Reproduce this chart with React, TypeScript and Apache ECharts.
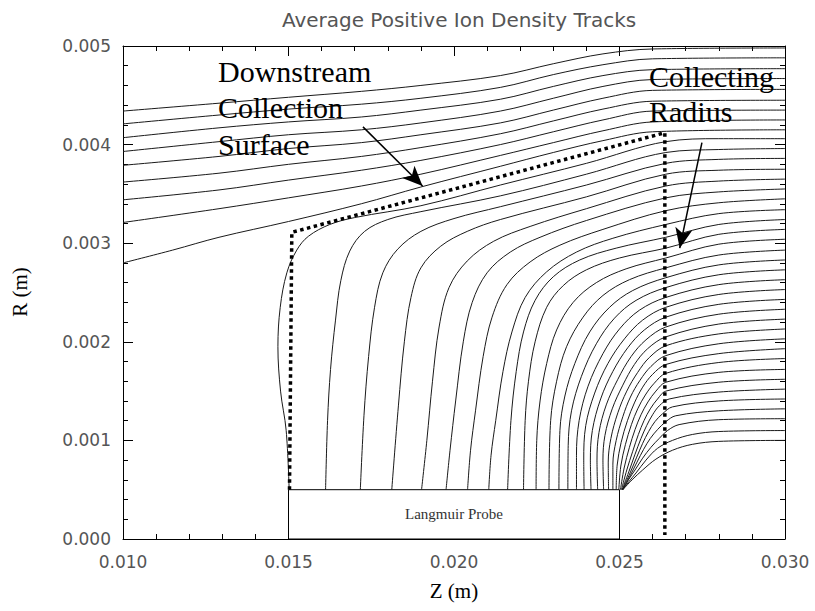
import React, { useEffect, useRef } from 'react';
import * as echarts from 'echarts';

// ---- Axis ranges / tick labels (metres) ----
const zRange = [0.01, 0.03];
const zStep = 0.005;
const rRange = [0.0, 0.005];
const rStep = 0.001;

// ---- Tracks that pass above the collection surface (Z mm, R mm) ----
const upperTracks: number[][][] = [
  [[10, 4.34], [12.9, 4.42], [15, 4.48], [17.2, 4.54], [19, 4.6], [21.4, 4.7], [23, 4.82], [24.5, 4.92], [26, 4.97], [30, 4.98]],
  [[10, 4.21], [12.9, 4.3], [15, 4.36], [17.2, 4.41], [19, 4.47], [21.4, 4.58], [23, 4.71], [24.5, 4.81], [26, 4.87], [30, 4.88]],
  [[10, 4.07], [12.9, 4.17], [15, 4.23], [17.2, 4.28], [19, 4.35], [21.4, 4.46], [23, 4.59], [24.5, 4.7], [26, 4.76], [30, 4.77]],
  [[10, 3.93], [12.9, 4.03], [15, 4.1], [17.2, 4.15], [19, 4.22], [21.4, 4.34], [23, 4.47], [24.5, 4.59], [26, 4.66], [30, 4.67]],
  [[10, 3.79], [12.9, 3.88], [15, 3.96], [17.2, 4.02], [19, 4.1], [21.4, 4.22], [23, 4.35], [24.5, 4.47], [26, 4.55], [30, 4.56]],
  [[10, 3.62], [12.9, 3.71], [15, 3.8], [17.2, 3.88], [19, 3.97], [21.4, 4.11], [23, 4.24], [24.5, 4.36], [26, 4.44], [30, 4.45]],
  [[10, 3.44], [12.9, 3.54], [15, 3.64], [17.2, 3.74], [19, 3.84], [21.4, 4.0], [23, 4.13], [24.5, 4.25], [26, 4.34], [30, 4.35]],
  [[10, 3.21], [12.9, 3.35], [15, 3.46], [17.2, 3.58], [19, 3.7], [21.4, 3.89], [23, 4.02], [24.5, 4.14], [26, 4.23], [30, 4.25]],
  [[10, 2.8], [11.5, 2.93], [12.9, 3.06], [15, 3.22], [17.2, 3.4], [19, 3.57], [21.4, 3.78], [23, 3.92], [24.5, 4.04], [26, 4.13], [30, 4.15]],
];

// ---- Tracks collected on the probe (Z mm, R mm) ----
const probeTracks: number[][][] = [
  [[30, 4.06], [28, 4.06], [26.4, 4.03], [24, 3.81], [21.4, 3.59], [19, 3.38], [17, 3.26], [16.25, 3.19], [15.6, 3.07], [15.25, 2.93], [14.95, 2.7], [14.75, 2.35], [14.68, 1.95], [14.76, 1.5], [14.93, 1.1], [15.02, 0.5]],
  [[30, 3.96], [28, 3.95], [26.4, 3.92], [24, 3.7], [21.4, 3.48], [19, 3.32], [18, 3.24], [17.3, 3.12], [16.85, 2.92], [16.58, 2.62], [16.42, 2.22], [16.27, 1.72], [16.18, 1.2], [16.12, 0.5]],
  [[30, 3.86], [28, 3.85], [26.4, 3.81], [24, 3.59], [21.4, 3.37], [20, 3.25], [19, 3.12], [18.3, 2.94], [17.85, 2.7], [17.6, 2.35], [17.42, 1.85], [17.28, 1.25], [17.17, 0.5]],
  [[30, 3.75], [28, 3.74], [26.4, 3.7], [24, 3.47], [21.4, 3.24], [20.4, 3.12], [19.6, 2.97], [19.0, 2.75], [18.7, 2.45], [18.5, 2.0], [18.32, 1.35], [18.12, 0.5]],
  [[30, 3.65], [28, 3.63], [26.4, 3.58], [24, 3.35], [22.3, 3.17], [21.2, 3.02], [20.4, 2.82], [19.85, 2.55], [19.55, 2.15], [19.35, 1.6], [19.18, 1.0], [19.02, 0.5]],
  [[30, 3.55], [28, 3.52], [26.4, 3.46], [24, 3.23], [22.6, 3.06], [21.7, 2.91], [21.0, 2.7], [20.55, 2.4], [20.28, 2.0], [20.05, 1.4], [19.88, 0.9], [19.76, 0.5]],
  [[30, 3.45], [28, 3.41], [26.4, 3.33], [24.5, 3.14], [23.2, 2.98], [22.3, 2.81], [21.6, 2.58], [21.15, 2.25], [20.88, 1.85], [20.65, 1.3], [20.5, 0.9], [20.41, 0.5]],
  [[30, 3.34], [28, 3.3], [26.4, 3.19], [24.8, 3.05], [23.7, 2.91], [22.8, 2.71], [22.15, 2.45], [21.75, 2.1], [21.48, 1.7], [21.26, 1.2], [21.12, 0.85], [21.05, 0.5]],
  [[30, 3.24], [28, 3.19], [26.4, 3.06], [24.9, 2.95], [23.8, 2.83], [23.0, 2.66], [22.45, 2.42], [22.1, 2.1], [21.88, 1.7], [21.72, 1.2], [21.62, 0.5]],
  [[30, 3.14], [28, 3.09], [26.4, 2.95], [25, 2.85], [24, 2.73], [23.3, 2.57], [22.8, 2.35], [22.45, 2.0], [22.25, 1.6], [22.15, 1.2], [22.1, 0.5]],
  [[30, 3.04], [28, 2.99], [26.4, 2.85], [25.2, 2.74], [24.3, 2.6], [23.6, 2.4], [23.1, 2.12], [22.8, 1.78], [22.6, 1.4], [22.5, 1.0], [22.48, 0.5]],
  [[30, 2.93], [28, 2.88], [26.4, 2.75], [25.3, 2.63], [24.5, 2.47], [23.9, 2.25], [23.4, 1.95], [23.1, 1.6], [22.92, 1.2], [22.87, 0.5]],
  [[30, 2.83], [28, 2.78], [26.4, 2.65], [25.4, 2.52], [24.7, 2.35], [24.1, 2.1], [23.65, 1.78], [23.35, 1.45], [23.2, 1.1], [23.17, 0.5]],
  [[30, 2.73], [28, 2.68], [26.4, 2.55], [25.5, 2.42], [24.85, 2.24], [24.3, 1.98], [23.85, 1.65], [23.55, 1.3], [23.45, 0.95], [23.44, 0.5]],
  [[30, 2.63], [28, 2.58], [26.4, 2.45], [25.6, 2.32], [25.0, 2.13], [24.5, 1.88], [24.05, 1.55], [23.78, 1.2], [23.7, 0.85], [23.7, 0.5]],
  [[30, 2.53], [28, 2.48], [26.4, 2.35], [25.7, 2.22], [25.15, 2.03], [24.65, 1.78], [24.25, 1.48], [23.98, 1.15], [23.92, 0.8], [23.93, 0.5]],
  [[30, 2.43], [28, 2.38], [26.4, 2.25], [25.75, 2.12], [25.25, 1.94], [24.8, 1.7], [24.43, 1.42], [24.18, 1.1], [24.12, 0.8], [24.14, 0.5]],
  [[30, 2.33], [28, 2.28], [26.4, 2.15], [25.8, 2.02], [25.35, 1.85], [24.95, 1.62], [24.6, 1.36], [24.38, 1.08], [24.32, 0.8], [24.34, 0.5]],
  [[30, 2.23], [28, 2.18], [26.4, 2.05], [25.85, 1.93], [25.45, 1.77], [25.1, 1.56], [24.78, 1.32], [24.56, 1.05], [24.5, 0.8], [24.52, 0.5]],
  [[30, 2.13], [28, 2.08], [26.4, 1.96], [25.9, 1.84], [25.55, 1.69], [25.22, 1.5], [24.95, 1.28], [24.74, 1.02], [24.66, 0.78], [24.67, 0.5]],
  [[30, 2.03], [28, 1.98], [26.4, 1.86], [25.95, 1.75], [25.62, 1.61], [25.33, 1.44], [25.1, 1.24], [24.9, 1.0], [24.8, 0.76], [24.8, 0.5]],
  [[30, 1.93], [28, 1.88], [26.4, 1.77], [26.0, 1.67], [25.7, 1.54], [25.45, 1.38], [25.24, 1.2], [25.05, 0.98], [24.93, 0.75], [24.9, 0.5]],
  [[30, 1.83], [28, 1.79], [26.4, 1.68], [26.05, 1.58], [25.78, 1.46], [25.55, 1.32], [25.36, 1.16], [25.18, 0.96], [25.04, 0.74], [24.98, 0.5]],
  [[30, 1.72], [28, 1.69], [26.4, 1.59], [26.1, 1.5], [25.86, 1.39], [25.65, 1.26], [25.47, 1.11], [25.3, 0.93], [25.14, 0.72], [25.03, 0.5]],
  [[30, 1.62], [28, 1.59], [26.4, 1.5], [26.15, 1.42], [25.93, 1.32], [25.74, 1.2], [25.57, 1.06], [25.4, 0.89], [25.22, 0.7], [25.06, 0.5]],
  [[30, 1.52], [28, 1.49], [26.5, 1.42], [26.2, 1.35], [26.0, 1.26], [25.82, 1.15], [25.65, 1.02], [25.47, 0.86], [25.28, 0.68], [25.08, 0.5]],
  [[30, 1.42], [28, 1.4], [26.6, 1.34], [26.3, 1.27], [26.07, 1.19], [25.88, 1.09], [25.7, 0.97], [25.52, 0.83], [25.32, 0.67], [25.09, 0.5]],
  [[30, 1.32], [28, 1.3], [26.7, 1.25], [26.4, 1.19], [26.15, 1.11], [25.93, 1.02], [25.73, 0.91], [25.53, 0.78], [25.32, 0.64], [25.1, 0.5]],
  [[30, 1.22], [28, 1.21], [26.8, 1.16], [26.45, 1.1], [26.2, 1.02], [25.95, 0.93], [25.7, 0.82], [25.47, 0.7], [25.27, 0.6], [25.1, 0.5]],
  [[30, 1.1], [28, 1.09], [27.2, 1.06], [26.6, 1.0], [26.15, 0.92], [25.8, 0.8], [25.5, 0.67], [25.28, 0.58], [25.1, 0.5]],
  [[30, 1.0], [28, 0.99], [27.2, 0.96], [26.6, 0.9], [26.1, 0.81], [25.7, 0.7], [25.38, 0.6], [25.1, 0.5]],
];

// ---- Dotted collection surface + collecting radius (Z mm, R mm) ----
const surfaceOutline: number[][] = [[15.03, 0.5], [15.1, 3.11], [26.37, 4.12], [26.37, 0.04]];

// ---- Langmuir probe body (Z mm, R mm) ----
const probeBox: number[][] = [[15.0, 0.0], [25.0, 0.5]];
const probeLabel = 'Langmuir Probe';

// ---- Annotation arrows: [from, to] (Z mm, R mm) ----
const arrows: number[][][] = [
  [[17.25, 4.18], [19.05, 3.58]],
  [[27.49, 4.02], [26.82, 2.95]],
];

const titleText = 'Average Positive Ion Density Tracks';
const xName = 'Z (m)';
const yName = 'R (m)';
const noteLeft = ['Downstream', 'Collection', 'Surface'];
const noteRight = ['Collecting', 'Radius'];

const mm = (p: number[]) => [p[0] / 1000, p[1] / 1000];

export default function App() {
  const ref = useRef<HTMLDivElement>(null);
  useEffect(() => {
    if (!ref.current) return;
    const chart = echarts.init(ref.current, undefined, { renderer: 'svg' });
    const tickFont = { fontFamily: 'DejaVu Sans', fontSize: 17, color: '#555' };
    const serif = 'Liberation Serif';
    const trackStyle = { color: '#1a1a1a', width: 1 };
    const baseX = {
      type: 'value', min: zRange[0], max: zRange[1], interval: zStep,
      axisLine: { show: true, onZero: false, lineStyle: { color: '#000', width: 1 } },
      axisTick: { show: true, inside: true, length: 10, lineStyle: { color: '#000' } },
      minorTick: { show: true, splitNumber: 5, length: 5, lineStyle: { color: '#000' } },
      splitLine: { show: false }, minorSplitLine: { show: false },
    };
    const baseY = {
      type: 'value', min: rRange[0], max: rRange[1], interval: rStep,
      axisLine: { show: true, onZero: false, lineStyle: { color: '#000', width: 1 } },
      axisTick: { show: true, inside: true, length: 10, lineStyle: { color: '#000' } },
      minorTick: { show: true, splitNumber: 5, length: 5, lineStyle: { color: '#000' } },
      splitLine: { show: false }, minorSplitLine: { show: false },
    };
    const series: any[] = [];
    upperTracks.forEach((t) => series.push({
      type: 'line', data: t.map(mm), smooth: 0.35, showSymbol: false, silent: true,
      lineStyle: trackStyle, z: 3,
    }));
    probeTracks.forEach((t) => series.push({
      type: 'line', data: t.map(mm), smooth: 0.35, showSymbol: false, silent: true,
      lineStyle: trackStyle, z: 3,
    }));
    series.push({
      type: 'line', data: surfaceOutline.map(mm), smooth: false, showSymbol: false, silent: true,
      lineStyle: { color: '#000', width: 3.5, type: [3.5, 3.5], cap: 'butt' }, z: 4,
      markArea: {
        silent: true,
        itemStyle: { color: '#fff', borderColor: '#000', borderWidth: 1 },
        label: { show: true, position: 'inside', formatter: probeLabel, fontFamily: serif, fontSize: 15, color: '#333' },
        data: [[{ coord: mm(probeBox[0]) }, { coord: mm(probeBox[1]) }]],
      },
      markLine: {
        silent: true,
        symbol: ['none', 'arrow'],
        symbolSize: [13, 20],
        symbolOffset: [0, 0],
        label: { show: false },
        itemStyle: { color: '#000' },
        lineStyle: { color: '#000', width: 1.5, type: 'solid' },
        data: arrows.map((a) => [{ coord: mm(a[0]) }, { coord: mm(a[1]) }]),
      },
    });

    const graphic: any[] = [];
    noteLeft.forEach((s, i) => graphic.push({
      type: 'text', left: 218, top: 56 + i * 36.5, z: 10,
      style: { text: s, fontFamily: serif, fontSize: 30, fill: '#000' },
    }));
    noteRight.forEach((s, i) => graphic.push({
      type: 'text', left: 649, top: 61 + i * 35, z: 10,
      style: { text: s, fontFamily: serif, fontSize: 30, fill: '#000' },
    }));
    graphic.push({
      type: 'text', x: 454, y: 591, z: 10,
      style: { text: xName, fontFamily: serif, fontSize: 21, fill: '#000', align: 'center', verticalAlign: 'middle' },
    });
    graphic.push({
      type: 'text', x: 20, y: 292, rotation: Math.PI / 2, z: 10,
      style: { text: yName, fontFamily: serif, fontSize: 21, fill: '#000', align: 'center', verticalAlign: 'middle' },
    });

    chart.setOption({
      animation: false,
      backgroundColor: '#fff',
      title: {
        text: titleText, left: 454, top: 5, textAlign: 'center',
        textStyle: { fontFamily: 'DejaVu Sans', fontSize: 20, fontWeight: 'normal', color: '#555' },
      },
      grid: { left: 123, right: 30, top: 46, bottom: 72, containLabel: false },
      xAxis: [
        { ...baseX, position: 'bottom', axisLabel: { ...tickFont, margin: 14, formatter: (v: number) => v.toFixed(3) } },
        { ...baseX, position: 'top', axisLabel: { show: false } },
      ],
      yAxis: [
        { ...baseY, position: 'left', axisLabel: { ...tickFont, margin: 12, formatter: (v: number) => v.toFixed(3) } },
        { ...baseY, position: 'right', axisLabel: { show: false } },
      ],
      graphic,
      series,
    });
    return () => chart.dispose();
  }, []);
  return <div ref={ref} style={{ position: 'fixed', left: 0, top: 0, width: 815, height: 611, background: '#fff' }} />;
}
